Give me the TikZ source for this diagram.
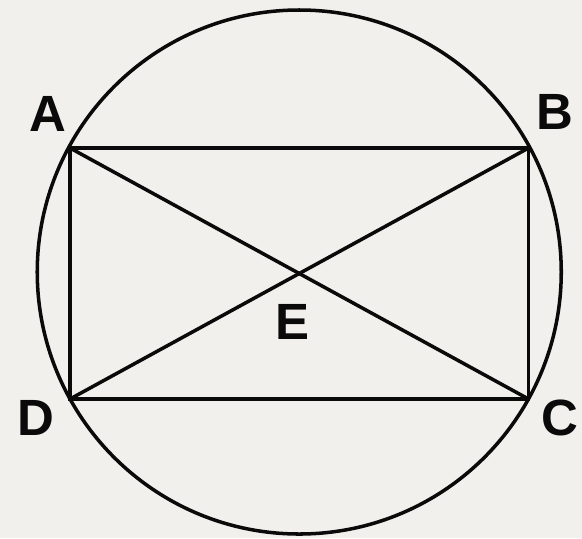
\documentclass[tikz,border=0pt]{standalone}
\usepackage{fontspec}
\setmainfont{Liberation Sans}
\usepackage{xcolor}
\usepackage{tikz}
\usetikzlibrary{calc,positioning}
\definecolor{paperBg}{RGB}{242,240,236}
\definecolor{inkBlack}{RGB}{10,10,10}
\tikzset{
  edge/.style={inkBlack, line width=2pt},
  ptlabel/.style={text=inkBlack, font=\fontsize{29}{35}\selectfont\bfseries, inner sep=0pt}
}

\begin{document}
\begin{tikzpicture}
\fill[paperBg] (0,0) rectangle (11.64,-10.76);
\useasboundingbox (0,0) rectangle (11.64,-10.76);

% rectangle corners and centre
\coordinate (A) at (1.40,-2.96);
\coordinate (B) at (10.57,-2.96);
\coordinate (C) at (10.57,-7.98);
\coordinate (D) at (1.40,-7.98);
\coordinate (E) at (5.985,-5.47);

\draw[edge] (5.985,-5.44) circle (5.24);
\draw[edge] (A) -- (B) -- (C) -- (D) -- cycle;
\draw[edge] (A) -- (C);
\draw[edge] (B) -- (D);

\node[ptlabel] (labA) at (0.95,-2.27) {A};
\node[ptlabel] (labB) at (11.09,-2.23) {B};
\node[ptlabel] (labC) at (11.19,-8.36) {C};
\node[ptlabel] (labD) at (0.71,-8.36) {D};
\node[ptlabel] (labE) at (5.85,-6.44) {E};
\end{tikzpicture}
\end{document}
